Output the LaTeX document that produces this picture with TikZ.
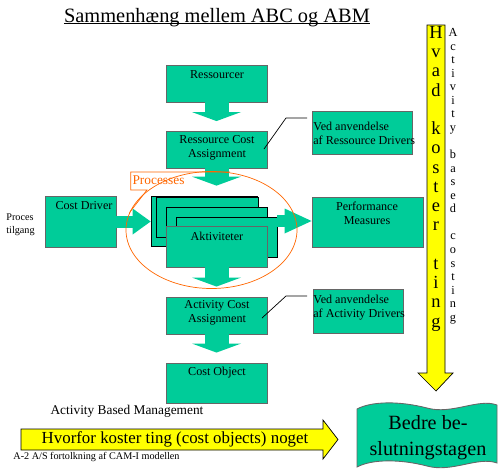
\documentclass[tikz,border=0pt]{standalone}
\usepackage{fontspec}
\setmainfont{Liberation Serif}
\usetikzlibrary{arrows.meta,shapes.geometric}
\definecolor{colG}{RGB}{0,204,153}
\definecolor{colY}{RGB}{255,255,0}
\definecolor{colO}{RGB}{255,102,0}
\colorlet{ecol}{black!60}
\tikzstyle{box}=[rectangle, draw=ecol, fill=colG, line width=0.5pt, inner sep=0pt]
\tikzstyle{stackbox}=[box, draw=black, line width=0.4pt]
\tikzstyle{lbl}=[inner sep=0pt, align=center, font=\fontsize{6.9}{8}\selectfont]
\tikzstyle{note}=[lbl, align=left]
\tikzstyle{garrowV}=[draw=colG, fill=colG, line width=4.8mm, shorten >=2mm, -{Triangle[width=9.8mm,length=1.8mm,line width=0pt]}]
\tikzstyle{garrowH}=[draw=colG, fill=colG, line width=2.4mm, -{Triangle[width=5.2mm,length=3.6mm,line width=0pt]}]
\tikzstyle{garrowHH}=[draw=colG, fill=colG, line width=2.4mm, -{Triangle[width=5mm,length=5.4mm,line width=0pt]}]
\tikzstyle{yarrow}=[draw=black, fill=colY, line width=0.4pt]
\tikzstyle{call}=[draw=black, line width=0.4pt]
\tikzstyle{ocall}=[draw=colO, line width=0.4pt]

\begin{document}
\begin{tikzpicture}[x=0.2mm, y=-0.2mm]
	\useasboundingbox (0,0) rectangle (500,471);

	%%% Title
	\node[lbl, anchor=base, font=\fontsize{11.6}{14}\selectfont] (title) at (217,22) {Sammenhæng mellem ABC og ABM};
	\draw[line width=0.6pt] ([yshift=-0.3mm]title.base west) -- ([yshift=-0.3mm]title.base east);

	%%% Yellow arrows
	\draw[yarrow] (427,25) -- (445,25) -- (445,373) -- (453,373) -- (436,391) -- (418,373) -- (427,373) -- cycle;
	\draw[yarrow] (21,429) -- (323,429) -- (323,420) -- (338,439.5) -- (323,459) -- (323,450) -- (21,450) -- cycle;
	\node[lbl, anchor=north, font=\fontsize{10.5}{10.95}\selectfont] (hvad) at (436,26)
		{H\\v\\a\\d\\~\\k\\o\\s\\t\\e\\r\\~\\t\\i\\n\\g};
	\node[lbl, anchor=north, font=\fontsize{7}{7.72}\selectfont] (abcT) at (453,28)
		{A\\c\\t\\i\\v\\i\\t\\y\\~\\b\\a\\s\\e\\d\\~\\c\\o\\s\\t\\i\\n\\g};
	\node[lbl, font=\fontsize{9.6}{11}\selectfont] (hvorfor) at (175,439) {Hvorfor koster ting (cost objects) noget};

	%%% Boxes
	\node[box, minimum width=20.2mm, minimum height=7.4mm] (res) at (216.5,83.5) {};
	\node[box, minimum width=20.2mm, minimum height=7.3mm] (rca) at (216.5,149.75) {};
	\node[box, minimum width=14.2mm, minimum height=10.2mm] (cd) at (80.5,221.5) {};
	\node[box, minimum width=22.2mm, minimum height=10mm] (pm) at (367.5,222) {};
	\node[box, minimum width=20.2mm, minimum height=7.4mm] (aca) at (216.5,315.5) {};
	\node[box, minimum width=20.2mm, minimum height=8mm] (co) at (216.5,383) {};
	\node[box, minimum width=20mm, minimum height=8.6mm] (vrd) at (362,132.5) {};
	\node[box, minimum width=18mm, minimum height=8.8mm] (vad) at (358,311) {};

	%%% Aktiviteter stack
	\node[stackbox, minimum width=21.2mm, minimum height=10mm] (akt1) at (204,221) {};
	\node[stackbox, minimum width=20.4mm, minimum height=8mm] (akt2) at (207,217) {};
	\node[stackbox, minimum width=20.2mm, minimum height=8mm] (akt3) at (216.5,227) {};
	\node[stackbox, minimum width=20.2mm, minimum height=8mm] (akt4) at (226.5,237) {};
	\node[box, minimum width=20.2mm, minimum height=8.2mm] (akt5) at (216.5,246.5) {};

	%%% Green arrows
	\draw[garrowV] (res) -- (rca);
	\draw[garrowV] (rca.south) -- (rca.south |- akt1.north);
	\draw[garrowH] (cd.east) -- (cd.east -| akt1.west);
	\draw[garrowHH] (akt4.east |- akt1.east) -- (akt1.east -| pm.west);
	\draw[garrowV] (akt5) -- (aca);
	\draw[garrowV] (aca) -- (co);

	%%% Bedre beslutningstagen
	\draw[box] (357,409) .. controls (372,401) and (400,401) .. (427,408)
		.. controls (452,415) and (478,398) .. (497,405) -- (497,463)
		.. controls (478,456) and (452,473) .. (427,466)
		.. controls (400,459) and (372,459) .. (357,467) -- cycle;
	\node[lbl, font=\fontsize{11.5}{14.8}\selectfont] (bedre) at (428,438) {Bedre be-\\slutningstagen};

	%%% Labels
	\node[lbl] (resL) at (217,75) {Ressourcer};
	\node[lbl] (rcaL) at (217,147.5) {Ressource Cost\\Assignment};
	\node[lbl] (cdL) at (84,206) {Cost Driver};
	\node[lbl] (aktL) at (217,236) {Aktiviteter};
	\node[lbl] (pmL) at (367,213) {Performance\\Measures};
	\node[lbl] (acaL) at (217,313) {Activity Cost\\Assignment};
	\node[lbl] (coL) at (217,373) {Cost Object};
	\node[note, anchor=west] (vrdL) at (313,133) {Ved anvendelse\\af Ressource Drivers};
	\node[note, anchor=west] (vadL) at (313,308) {Ved anvendelse\\af Activity Drivers};
	\node[note, anchor=west, font=\fontsize{5.8}{7.4}\selectfont] (tilg) at (6,224.5) {Proces\\tilgang};
	\node[lbl, font=\fontsize{7.6}{9}\selectfont] (abm) at (127,411) {Activity Based Management};
	\node[lbl, font=\fontsize{5.8}{7}\selectfont] (src) at (96.5,457) {A-2 A/S fortolkning af CAM-I modellen};

	%%% Callouts
	\coordinate (vr1) at (264,149);
	\coordinate (vr2) at (286,118);
	\coordinate (vr3) at (307,118);
	\draw[call] (vr1) -- (vr2) -- (vr3);
	\coordinate (va1) at (262,318);
	\coordinate (va2) at (286,296);
	\coordinate (va3) at (307,296);
	\draw[call] (va1) -- (va2) -- (va3);

	%%% Processes
	\node[ellipse, draw=colO, line width=0.4pt, inner sep=0pt, minimum width=34.2mm, minimum height=23.4mm] (procE) at (211.5,230) {};
	\node[lbl, text=colO, font=\fontsize{7.6}{9}\selectfont] (procL) at (158.5,180) {Processes};
	\coordinate (pc1) at (230,172);
	\coordinate (pc2) at (130.7,172);
	\coordinate (pc3) at (130.7,190);
	\coordinate (pc4) at (147,190);
	\draw[ocall] (pc1) -- (pc2) -- (pc3) -- (pc4) -- (procE.168);
\end{tikzpicture}
\end{document}
